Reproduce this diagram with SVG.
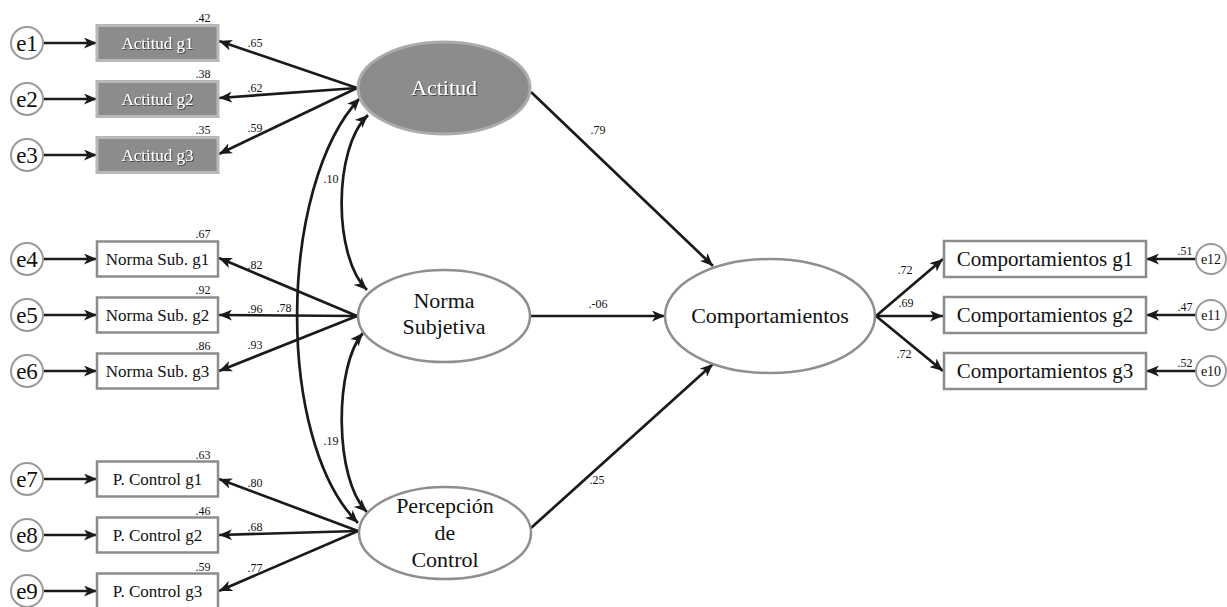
<svg xmlns="http://www.w3.org/2000/svg" width="1227" height="607" viewBox="0 0 1227 607">
<style>
text{font-family:"Liberation Serif","Times New Roman",serif;fill:#111}
.err{fill:#fff;stroke:#9a9a9a;stroke-width:2}
.et{font-size:23px;text-anchor:middle}
.ets{font-size:14px;text-anchor:middle}
.box{fill:#fff;stroke:#8c8c8c;stroke-width:2.5}
.gbox{fill:#8c8c8c;stroke:#b8b8b8;stroke-width:3}
.bt{font-size:17px;text-anchor:middle}
.gbt{font-size:17px;text-anchor:middle;fill:#fff}
.lat{fill:#fff;stroke:#8e8e8e;stroke-width:2.5}
.glat{fill:#8c8c8c;stroke:#ababab;stroke-width:3}
.lt{font-size:22px;text-anchor:middle}
.rt{font-size:21px;text-anchor:middle}
.sm{font-size:12px;text-anchor:middle}
.c line,.c path{stroke:#1a1a1a;stroke-width:2.7;fill:none;marker-end:url(#ah)}
.c path.cov{marker-start:url(#ah)}
</style>
<defs>
<marker id="ah" viewBox="0 0 13 11" refX="13" refY="5.5" markerWidth="13" markerHeight="11" markerUnits="userSpaceOnUse" orient="auto-start-reverse">
<path d="M0,0 L13,5.5 L0,11 L3.5,5.5 z" fill="#1a1a1a"/>
</marker>
<filter id="sh" x="-10%" y="-10%" width="120%" height="130%">
<feDropShadow dx="1" dy="1" stdDeviation="0.6" flood-color="#333" flood-opacity="0.8"/>
</filter>
</defs>
<rect width="1227" height="607" fill="#fff"/>

<g class="c" id="connectors">
<line x1="44" y1="43" x2="97" y2="43"/>
<line x1="44" y1="99" x2="97" y2="99"/>
<line x1="44" y1="155" x2="97" y2="155"/>
<line x1="44" y1="259" x2="97" y2="259"/>
<line x1="44" y1="315" x2="97" y2="315"/>
<line x1="44" y1="371" x2="97" y2="371"/>
<line x1="44" y1="479" x2="97" y2="479"/>
<line x1="44" y1="535" x2="97" y2="535"/>
<line x1="44" y1="591" x2="97" y2="591"/>
<line x1="357" y1="88" x2="219" y2="41"/>
<line x1="357" y1="88" x2="219" y2="98"/>
<line x1="357" y1="88" x2="219" y2="154"/>
<line x1="357" y1="316" x2="219" y2="258"/>
<line x1="357" y1="316" x2="219" y2="315"/>
<line x1="357" y1="316" x2="219" y2="371"/>
<line x1="358" y1="531" x2="219" y2="479"/>
<line x1="358" y1="531" x2="219" y2="535"/>
<line x1="358" y1="531" x2="219" y2="591"/>
<path class="cov" d="M368,115 C333,148 333,257 367,290"/>
<path class="cov" d="M363,333 C334,366 334,480 367,512"/>
<path class="cov" d="M360,98 C278,185 275,440 358,523"/>
<line x1="531" y1="92" x2="713" y2="266"/>
<line x1="531" y1="316" x2="665" y2="316"/>
<line x1="531" y1="528" x2="713" y2="364"/>
<line x1="876" y1="316" x2="943" y2="259"/>
<line x1="876" y1="316" x2="943" y2="316"/>
<line x1="876" y1="316" x2="943" y2="371"/>
<line x1="1196" y1="259" x2="1146" y2="259"/>
<line x1="1196" y1="315" x2="1146" y2="315"/>
<line x1="1196" y1="371" x2="1146" y2="371"/>
</g>

<g id="labels">
<text class="sm" x="255" y="47">.65</text>
<text class="sm" x="255" y="92">.62</text>
<text class="sm" x="255" y="132">.59</text>
<text class="sm" x="255" y="269">.82</text>
<text class="sm" x="255" y="313">.96</text>
<text class="sm" x="255" y="349">.93</text>
<text class="sm" x="255" y="487">.80</text>
<text class="sm" x="255" y="531">.68</text>
<text class="sm" x="255" y="572">.77</text>
<text class="sm" x="331" y="183">.10</text>
<text class="sm" x="331" y="445">.19</text>
<text class="sm" x="284" y="312">.78</text>
<text class="sm" x="598" y="134">.79</text>
<text class="sm" x="598" y="308">.-06</text>
<text class="sm" x="597" y="484">.25</text>
<text class="sm" x="905" y="274">.72</text>
<text class="sm" x="906" y="307">.69</text>
<text class="sm" x="904" y="358">.72</text>
<text class="sm" x="1185" y="255">.51</text>
<text class="sm" x="1185" y="311">.47</text>
<text class="sm" x="1185" y="367">.52</text>
</g>

<g id="e1"><circle class="err" cx="27" cy="43" r="16"/><text class="et" x="27" y="51">e1</text></g>
<g id="e2"><circle class="err" cx="27" cy="99" r="16"/><text class="et" x="27" y="107">e2</text></g>
<g id="e3"><circle class="err" cx="27" cy="155" r="16"/><text class="et" x="27" y="163">e3</text></g>
<g id="e4"><circle class="err" cx="27" cy="259" r="16"/><text class="et" x="27" y="267">e4</text></g>
<g id="e5"><circle class="err" cx="27" cy="315" r="16"/><text class="et" x="27" y="323">e5</text></g>
<g id="e6"><circle class="err" cx="27" cy="371" r="16"/><text class="et" x="27" y="379">e6</text></g>
<g id="e7"><circle class="err" cx="27" cy="479" r="16"/><text class="et" x="27" y="487">e7</text></g>
<g id="e8"><circle class="err" cx="27" cy="535" r="16"/><text class="et" x="27" y="543">e8</text></g>
<g id="e9"><circle class="err" cx="27" cy="591" r="16"/><text class="et" x="27" y="599">e9</text></g>

<g id="actitud_g1"><rect class="gbox" x="97" y="25.5" width="121" height="35"/><text class="gbt" filter="url(#sh)" x="157.5" y="49">Actitud g1</text><text class="sm" x="203" y="22">.42</text></g>
<g id="actitud_g2"><rect class="gbox" x="97" y="81.5" width="121" height="35"/><text class="gbt" filter="url(#sh)" x="157.5" y="105">Actitud g2</text><text class="sm" x="203" y="78">.38</text></g>
<g id="actitud_g3"><rect class="gbox" x="97" y="137.5" width="121" height="35"/><text class="gbt" filter="url(#sh)" x="157.5" y="161">Actitud g3</text><text class="sm" x="203" y="134">.35</text></g>
<g id="norma_g1"><rect class="box" x="97" y="241.5" width="121" height="35"/><text class="bt" x="157.5" y="265">Norma Sub. g1</text><text class="sm" x="203" y="238">.67</text></g>
<g id="norma_g2"><rect class="box" x="97" y="297.5" width="121" height="35"/><text class="bt" x="157.5" y="321">Norma Sub. g2</text><text class="sm" x="203" y="294">.92</text></g>
<g id="norma_g3"><rect class="box" x="97" y="353.5" width="121" height="35"/><text class="bt" x="157.5" y="377">Norma Sub. g3</text><text class="sm" x="203" y="350">.86</text></g>
<g id="pcontrol_g1"><rect class="box" x="97" y="461.5" width="121" height="35"/><text class="bt" x="157.5" y="485">P. Control g1</text><text class="sm" x="203" y="459">.63</text></g>
<g id="pcontrol_g2"><rect class="box" x="97" y="517.5" width="121" height="35"/><text class="bt" x="157.5" y="541">P. Control g2</text><text class="sm" x="203" y="515">.46</text></g>
<g id="pcontrol_g3"><rect class="box" x="97" y="573.5" width="121" height="35"/><text class="bt" x="157.5" y="597">P. Control g3</text><text class="sm" x="203" y="571">.59</text></g>

<g id="actitud"><ellipse class="glat" cx="444" cy="88" rx="86" ry="46"/><text class="lt" filter="url(#sh)" style="fill:#fff" x="444" y="95">Actitud</text></g>
<g id="norma_subjetiva"><ellipse class="lat" cx="444" cy="316" rx="86" ry="46"/><text class="lt" x="444" y="308">Norma</text><text class="lt" x="444" y="334">Subjetiva</text></g>
<g id="percepcion_control"><ellipse class="lat" cx="445" cy="533" rx="86" ry="46"/><text class="lt" x="445" y="513">Percepción</text><text class="lt" x="445" y="540">de</text><text class="lt" x="445" y="567">Control</text></g>
<g id="comportamientos"><ellipse class="lat" cx="770" cy="316" rx="105" ry="57"/><text class="lt" x="770" y="323">Comportamientos</text></g>

<g id="comp_g1"><rect class="box" x="944" y="241" width="202" height="36"/><text class="rt" x="1045" y="266">Comportamientos g1</text></g>
<g id="comp_g2"><rect class="box" x="944" y="297" width="202" height="36"/><text class="rt" x="1045" y="322">Comportamientos g2</text></g>
<g id="comp_g3"><rect class="box" x="944" y="353" width="202" height="36"/><text class="rt" x="1045" y="378">Comportamientos g3</text></g>

<g id="e12"><circle class="err" cx="1211" cy="259" r="15"/><text class="ets" x="1211" y="264">e12</text></g>
<g id="e11"><circle class="err" cx="1211" cy="315" r="15"/><text class="ets" x="1211" y="320">e11</text></g>
<g id="e10"><circle class="err" cx="1211" cy="371" r="15"/><text class="ets" x="1211" y="376">e10</text></g>
</svg>
